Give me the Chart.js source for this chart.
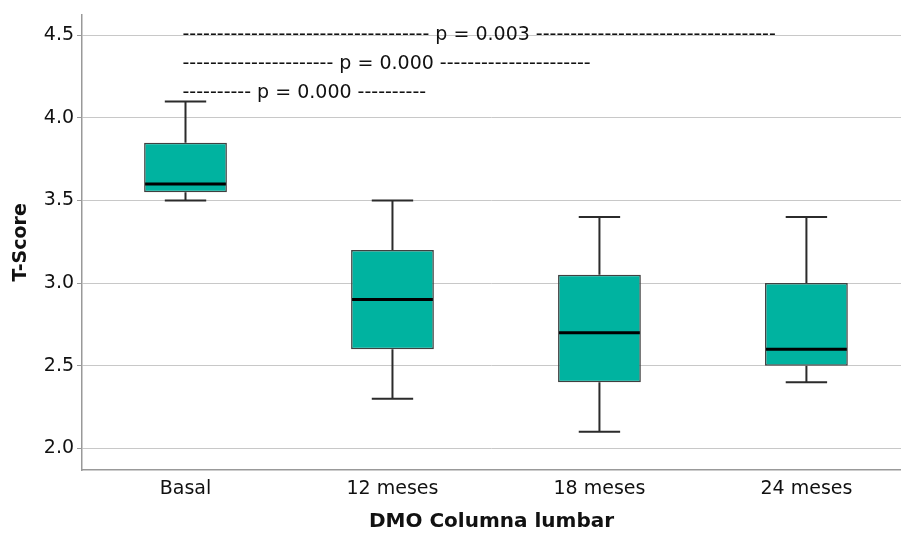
<html>
<head>
<title>T-Score DMO</title>
<script src="https://cdn.jsdelivr.net/npm/chart.js@4.4.1/dist/chart.umd.min.js"></script>
<style>
  body { margin: 0; background: #fff; }
  #wrap { width: 901px; height: 534px; }
</style>
</head>
<body>
<div id="wrap"><canvas id="chart"></canvas></div>
<script>
  var categories = ["Basal", "12 meses", "18 meses", "24 meses"];
  var whiskerMin = [3.5, 2.3, 2.1, 2.4];
  var q1 = [3.55, 2.6, 2.4, 2.5];
  var median = [3.6, 2.9, 2.7, 2.6];
  var q3 = [3.85, 3.2, 3.05, 3.0];
  var whiskerMax = [4.1, 3.5, 3.4, 3.4];
  var yTicks = [2.0, 2.5, 3.0, 3.5, 4.0, 4.5];

  // p-value labels drawn above the boxes
  var pLabels = [
    { text: "---------- p = 0.000 ----------", level: 4.15 },
    { text: "---------------------- p = 0.000 ----------------------", level: 4.325 },
    { text: "------------------------------------ p = 0.003 -----------------------------------", level: 4.5 }
  ];

  var boxData = categories.map(function(c, i) {
    return { x: i, y: [q1[i], q3[i]] };
  });

  var boxPlugin = {
    id: 'boxParts',
    beforeDatasetsDraw: function(chart) {
      var ctx = chart.ctx, xs = chart.scales.x, ys = chart.scales.y;
      ctx.save();
      ctx.strokeStyle = "#2b2b2b";
      ctx.lineWidth = 2;
      for (var i = 0; i < categories.length; i++) {
        var x = xs.getPixelForValue(i);
        var half = (xs.getPixelForValue(1) - xs.getPixelForValue(0)) * 0.1;
        ctx.beginPath();
        ctx.moveTo(x, ys.getPixelForValue(q3[i]));
        ctx.lineTo(x, ys.getPixelForValue(whiskerMax[i]));
        ctx.moveTo(x, ys.getPixelForValue(q1[i]));
        ctx.lineTo(x, ys.getPixelForValue(whiskerMin[i]));
        ctx.moveTo(x - half, ys.getPixelForValue(whiskerMax[i]));
        ctx.lineTo(x + half, ys.getPixelForValue(whiskerMax[i]));
        ctx.moveTo(x - half, ys.getPixelForValue(whiskerMin[i]));
        ctx.lineTo(x + half, ys.getPixelForValue(whiskerMin[i]));
        ctx.stroke();
      }
      ctx.restore();
    },
    afterDatasetsDraw: function(chart) {
      var ctx = chart.ctx, xs = chart.scales.x, ys = chart.scales.y;
      var meta = chart.getDatasetMeta(0);
      ctx.save();
      ctx.strokeStyle = "#000";
      ctx.lineWidth = 3;
      meta.data.forEach(function(bar, i) {
        var w = bar.width / 2;
        var y = ys.getPixelForValue(median[i]);
        ctx.beginPath();
        ctx.moveTo(bar.x - w + 1, y);
        ctx.lineTo(bar.x + w - 1, y);
        ctx.stroke();
      });
      ctx.fillStyle = "#111";
      ctx.font = "19px 'DejaVu Sans'";
      ctx.textAlign = "left";
      ctx.textBaseline = "middle";
      var x0 = xs.getPixelForValue(0) - 3;
      pLabels.forEach(function(p) {
        ctx.fillText(p.text, x0, ys.getPixelForValue(p.level));
      });
      ctx.restore();
    }
  };

  new Chart(document.getElementById("chart"), {
    type: 'bar',
    data: {
      datasets: [{
        data: boxData,
        backgroundColor: "#00b3a0",
        borderColor: "#404040",
        borderWidth: 1.5,
        borderSkipped: false,
        categoryPercentage: 1,
        barPercentage: 0.4
      }]
    },
    plugins: [boxPlugin],
    options: {
      responsive: true,
      maintainAspectRatio: false,
      animation: false,
      layout: { padding: { top: 10, right: 0, left: 10, bottom: 0 } },
      plugins: {
        legend: { display: false },
        tooltip: { enabled: false }
      },
      scales: {
        x: {
          type: 'linear',
          offset: false,
          min: -0.5,
          max: 3.457,
          afterBuildTicks: function(scale) {
            scale.ticks = categories.map(function(c, i) { return { value: i }; });
          },
          grid: { display: false, drawTicks: false },
          border: { display: true, color: "#999", width: 1.5 },
          ticks: {
            padding: 7,
            color: "#111",
            font: { family: "'DejaVu Sans'", size: 19 },
            maxRotation: 0,
            callback: function(v) { return categories[v]; }
          },
          title: {
            display: true,
            text: "DMO Columna lumbar",
            color: "#111",
            font: { family: "'DejaVu Sans'", size: 20, weight: 'bold' },
            padding: { top: 3, bottom: 0 }
          }
        },
        y: {
          min: 1.867,
          max: 4.627,
          afterBuildTicks: function(scale) {
            scale.ticks = yTicks.map(function(v) { return { value: v }; });
          },
          grid: { color: "#c8c8c8", tickLength: 5, tickColor: "#999" },
          border: { display: true, color: "#999", width: 1.5 },
          ticks: {
            padding: 3,
            color: "#111",
            font: { family: "'DejaVu Sans'", size: 19 },
            callback: function(v) { return v.toFixed(1); }
          },
          title: {
            display: true,
            text: "T-Score",
            color: "#111",
            font: { family: "'DejaVu Sans'", size: 19, weight: 'bold' },
            padding: { top: 0, bottom: 8 }
          }
        }
      }
    }
  });
</script>
</body>
</html>
